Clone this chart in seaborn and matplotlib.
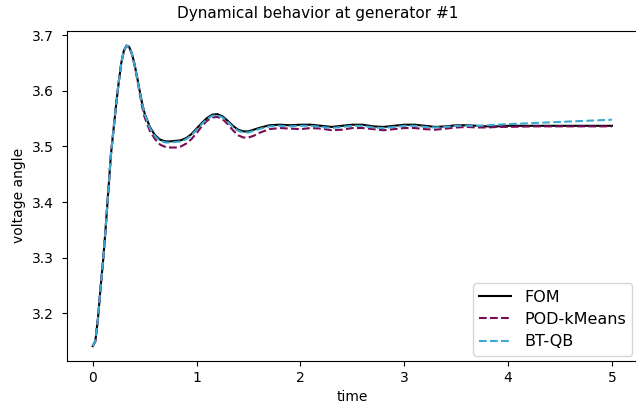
import matplotlib
matplotlib.use("Agg")
import matplotlib.pyplot as plt
import seaborn as sns

# time points and voltage angle
time = [0.00, 0.025, 0.05, 0.075, 0.10, 0.125, 0.15, 0.175, 0.20, 0.225,
        0.25, 0.275, 0.30, 0.325, 0.35, 0.375, 0.40, 0.425, 0.45, 0.475,
        0.50, 0.55, 0.60, 0.65, 0.70, 0.75, 0.80, 0.85, 0.90, 0.95,
        1.00, 1.05, 1.10, 1.15, 1.20, 1.25, 1.30, 1.35, 1.40, 1.45,
        1.50, 1.55, 1.60, 1.70, 1.80, 1.90, 2.00, 2.10, 2.20, 2.30,
        2.40, 2.50, 2.60, 2.70, 2.80, 2.90, 3.00, 3.10, 3.20, 3.30,
        3.40, 3.50, 3.60, 3.70, 3.80, 3.90, 4.00, 4.25, 4.50, 4.75, 5.00]

fom = [3.141, 3.150, 3.190, 3.245, 3.295, 3.355, 3.420, 3.485, 3.530, 3.575,
       3.615, 3.650, 3.672, 3.681, 3.679, 3.668, 3.650, 3.627, 3.602, 3.578,
       3.559, 3.535, 3.520, 3.512, 3.509, 3.509, 3.510, 3.511, 3.515, 3.522,
       3.532, 3.542, 3.551, 3.557, 3.558, 3.554, 3.546, 3.537, 3.530, 3.527,
       3.527, 3.530, 3.533, 3.538, 3.539, 3.538, 3.539, 3.539, 3.537, 3.535,
       3.537, 3.539, 3.539, 3.536, 3.535, 3.537, 3.539, 3.539, 3.537, 3.535,
       3.536, 3.538, 3.538, 3.537, 3.536, 3.536, 3.537, 3.537, 3.537, 3.537, 3.537]

pod_kmeans = [3.141, 3.150, 3.190, 3.245, 3.295, 3.355, 3.420, 3.485, 3.530, 3.575,
              3.615, 3.650, 3.672, 3.681, 3.679, 3.667, 3.648, 3.624, 3.598, 3.572,
              3.552, 3.528, 3.513, 3.503, 3.499, 3.498, 3.498, 3.500, 3.505, 3.513,
              3.524, 3.536, 3.546, 3.552, 3.553, 3.549, 3.540, 3.529, 3.520, 3.516,
              3.516, 3.519, 3.524, 3.531, 3.533, 3.532, 3.531, 3.533, 3.532, 3.529,
              3.530, 3.533, 3.533, 3.531, 3.529, 3.531, 3.533, 3.533, 3.531, 3.530,
              3.532, 3.534, 3.535, 3.534, 3.534, 3.535, 3.535, 3.536, 3.536, 3.536, 3.536]

bt_qb = [3.141, 3.150, 3.190, 3.245, 3.295, 3.355, 3.420, 3.485, 3.530, 3.575,
         3.615, 3.650, 3.672, 3.681, 3.679, 3.668, 3.649, 3.626, 3.601, 3.577,
         3.558, 3.533, 3.518, 3.510, 3.507, 3.507, 3.508, 3.509, 3.513, 3.520,
         3.530, 3.540, 3.549, 3.555, 3.556, 3.552, 3.544, 3.535, 3.528, 3.525,
         3.525, 3.528, 3.531, 3.536, 3.537, 3.536, 3.537, 3.537, 3.535, 3.533,
         3.535, 3.537, 3.537, 3.534, 3.533, 3.535, 3.537, 3.537, 3.535, 3.534,
         3.535, 3.537, 3.537, 3.537, 3.538, 3.539, 3.540, 3.542, 3.544, 3.546, 3.548]

fig, ax = plt.subplots(figsize=(6.36, 4.09), dpi=100)
sns.lineplot(x=time, y=fom, color="black", linewidth=1.5, label="FOM", ax=ax)
sns.lineplot(x=time, y=pod_kmeans, color="#7a0a55", linewidth=1.5,
             linestyle="--", label="POD-kMeans", ax=ax)
sns.lineplot(x=time, y=bt_qb, color="#3aaad2", linewidth=1.5,
             linestyle="--", label="BT-QB", ax=ax)

# title sits centred on the (uncropped) figure, a bit smaller than default
ax.set_title("Dynamical behavior at generator #1", fontsize=11, x=0.44, pad=9)
ax.set_xlabel("time")
ax.set_ylabel("voltage angle")
ax.tick_params(axis="y", pad=6)
ax.legend(loc="lower right", fontsize=11.5, labelspacing=0.45,
          bbox_to_anchor=(1.0, 0.0), borderaxespad=0.35)
# the reference is cropped just inside the right spine
ax.set_position([0.105, 0.117, 0.898, 0.808])
plt.savefig("out.png", dpi=100)
